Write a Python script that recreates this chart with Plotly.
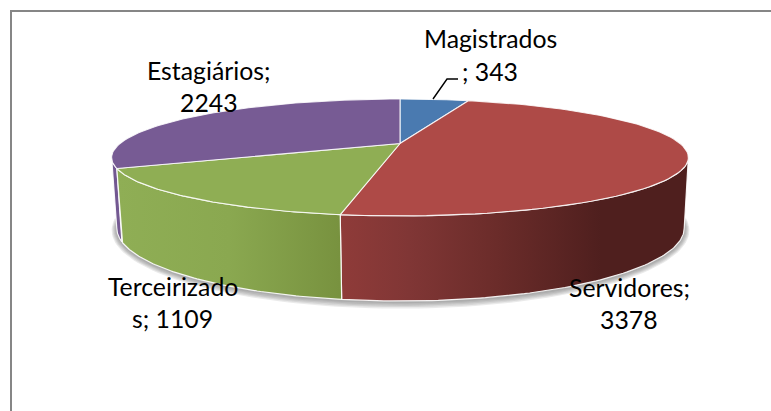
import numpy as np
import plotly.graph_objects as go

# Data
categories = ["Magistrados", "Servidores", "Terceirizados", "Estagiários"]
values = [343, 3378, 1109, 2243]
label_lines = [["Magistrados", "; 343"], ["Servidores;", "3378"],
               ["Terceirizado", "s; 1109"], ["Estagiários;", "2243"]]
top_colors = ["#4a7ab0", "#ae4a47", "#8fae54", "#775b94"]

W, H = 771, 411
P = 0.239
TOP = dict(cx=400.0, cy=143.5, a=280.0, b=55.1)
BOT = dict(cx=400.5, cy=210.6, a=275.5, b=68.8)


def project(theta, g, grow=0.0):
    w = 1 + P * np.cos(theta)
    return (g["cx"] + (g["a"] + grow) * np.sin(theta) / w,
            g["cy"] - (g["b"] + grow) * np.cos(theta) / w)


def arc(t0, t1, g, n=90):
    return project(np.linspace(t0, t1, n), g)


total = sum(values)
edges = np.concatenate([[0], np.cumsum(values)]) / total * 2 * np.pi
sil_r = np.arccos(-P)              # right silhouette angle
sil_l = 2 * np.pi - sil_r          # left silhouette angle

fig = go.Figure()

# soft shadow under the pie
circle = np.linspace(0, 2 * np.pi, 200)
for k in [5, 4, 3, 2, 1]:
    x, y = project(circle, BOT, grow=k)
    fig.add_trace(go.Scatter(x=x, y=y + 1, mode="lines", fill="toself",
                             fillcolor="rgba(90,90,90,0.13)",
                             line=dict(width=0), hoverinfo="skip"))


def side(t0, t1, scale, start, stop, name):
    xt, yt = arc(t0, t1, TOP)
    xb, yb = arc(t0, t1, BOT)
    x = np.concatenate([xt, xb[::-1], xt[:1]])
    y = np.concatenate([yt, yb[::-1], yt[:1]])
    fig.add_trace(go.Scatter(
        x=x, y=y, mode="lines", fill="toself", name=name,
        line=dict(color="rgba(255,255,255,0.9)", width=1.2),
        fillgradient=dict(type="horizontal", colorscale=scale, start=start, stop=stop),
        hoverinfo="skip"))


side(edges[3], sil_l, [[0, "#6f5590"], [1, "#755a92"]], 110, 122, categories[3])
side(sil_r, edges[2],
     [[0, "#4f1f1e"], [0.25, "#4f1f1e"], [0.55, "#6b2c2a"], [0.8, "#803635"], [1, "#8f3b39"]],
     688, 340, categories[1])
side(edges[2], edges[3], [[0, "#8fae55"], [0.5, "#8aa850"], [1, "#78923f"]], 118, 340, categories[2])

# top slices
for i, name in enumerate(categories):
    xa, ya = arc(edges[i], edges[i + 1], TOP)
    cx, cy = TOP["cx"], TOP["cy"]
    fig.add_trace(go.Scatter(
        x=np.concatenate([[cx], xa, [cx]]), y=np.concatenate([[cy], ya, [cy]]),
        mode="lines", fill="toself", fillcolor=top_colors[i], name=name,
        line=dict(color="rgba(255,255,255,0.85)", width=1.1), hoverinfo="skip"))

# leader line for Magistrados
fig.add_trace(go.Scatter(x=[433, 447, 458], y=[99, 79, 79], mode="lines",
                         line=dict(color="#000000", width=1.4), hoverinfo="skip"))

# labels
label_pos = [(490, [38, 71]), (629, [287, 319]), (172.5, [286, 318]), (209, [70, 102])]
for lines, (lx, ys) in zip(label_lines, label_pos):
    for line, ly in zip(lines, ys):
        fig.add_annotation(x=lx, y=ly, text=line, showarrow=False,
                           xanchor="center", yanchor="middle",
                           font=dict(family="Lato, Carlito, sans-serif", size=24.8, color="#000000"))

# chart frame
border = dict(color="#868686", width=2)
fig.add_shape(type="line", x0=11, y0=11, x1=W, y1=11, line=border)
fig.add_shape(type="line", x0=11, y0=10, x1=11, y1=H, line=border)

fig.update_layout(
    width=W, height=H, margin=dict(l=0, r=0, t=0, b=0),
    paper_bgcolor="white", plot_bgcolor="white", showlegend=False,
    xaxis=dict(range=[0, W], visible=False, fixedrange=True),
    yaxis=dict(range=[H, 0], visible=False, fixedrange=True),
    hovermode=False,
)
fig.write_html("out.html", config=dict(displayModeBar=False),
               post_script="document.body.style.margin='0';document.body.style.overflow='hidden';")
